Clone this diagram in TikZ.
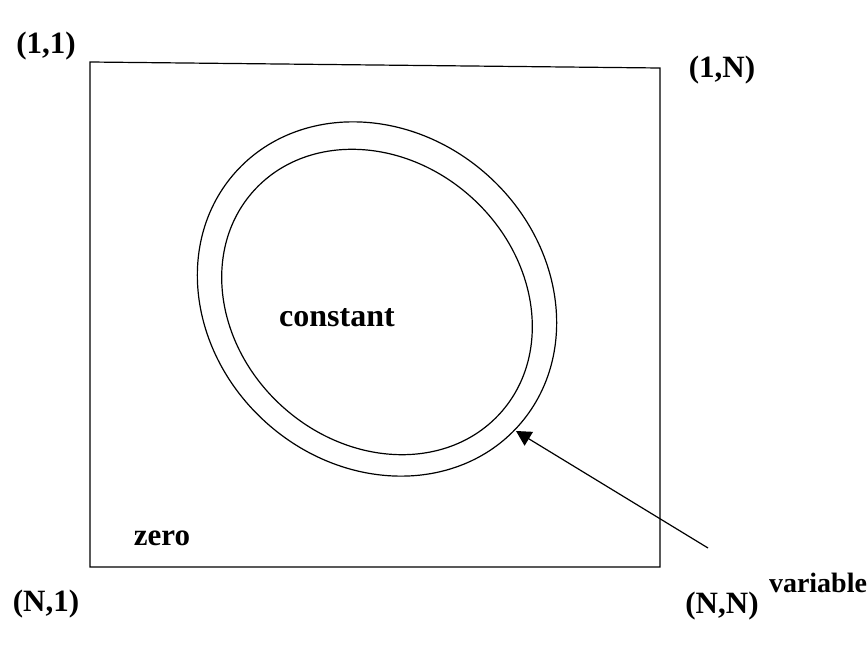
\documentclass[tikz,border=0pt]{standalone}
\usepackage{fontspec}
\setmainfont{Liberation Serif}
\usetikzlibrary{arrows.meta}
\begin{document}
\begin{tikzpicture}[x=1pt,y=-1pt,line width=1.2pt,
  lbl/.style={font=\fontsize{31}{34}\selectfont\bfseries,inner sep=0pt},
  ring/.style={line width=1.2pt}]
\path[use as bounding box] (0,0) rectangle (867,648);
% frame
\coordinate (tl) at (90,62);
\coordinate (tr) at (660,68);
\coordinate (br) at (660,567);
\coordinate (bl) at (90,567);
\draw (tl) -- (tr) -- (br) -- (bl) -- cycle;
% rings
\coordinate (c) at (377,299);
\coordinate (ci) at (377,302);
\draw[ring,rotate around={-42:(c)}] (c) ellipse [x radius=190pt,y radius=166pt];
\draw[ring,rotate around={-42:(ci)}] (ci) ellipse [x radius=166pt,y radius=141pt];
% labels
\node[lbl] (n11) at (46,46) {(1,1)};
\node[lbl] (n1N) at (722,70) {(1,N)};
\node[lbl] (nN1) at (46,604) {(N,1)};
\node[lbl] (nNN) at (722,606) {(N,N)};
\node[lbl] (zero) at (162,538) {zero};
\node[lbl,font=\fontsize{32}{34}\selectfont\bfseries] (const) at (337,318) {constant};
\node[lbl,font=\fontsize{28}{32}\selectfont\bfseries] (var) at (818,583) {variable};
% arrow
\coordinate (tip) at (516,431);
\coordinate (tail) at (708,548);
\draw[-{Triangle[length=15pt,width=16pt]}] (tail) -- (tip);
\end{tikzpicture}
\end{document}
